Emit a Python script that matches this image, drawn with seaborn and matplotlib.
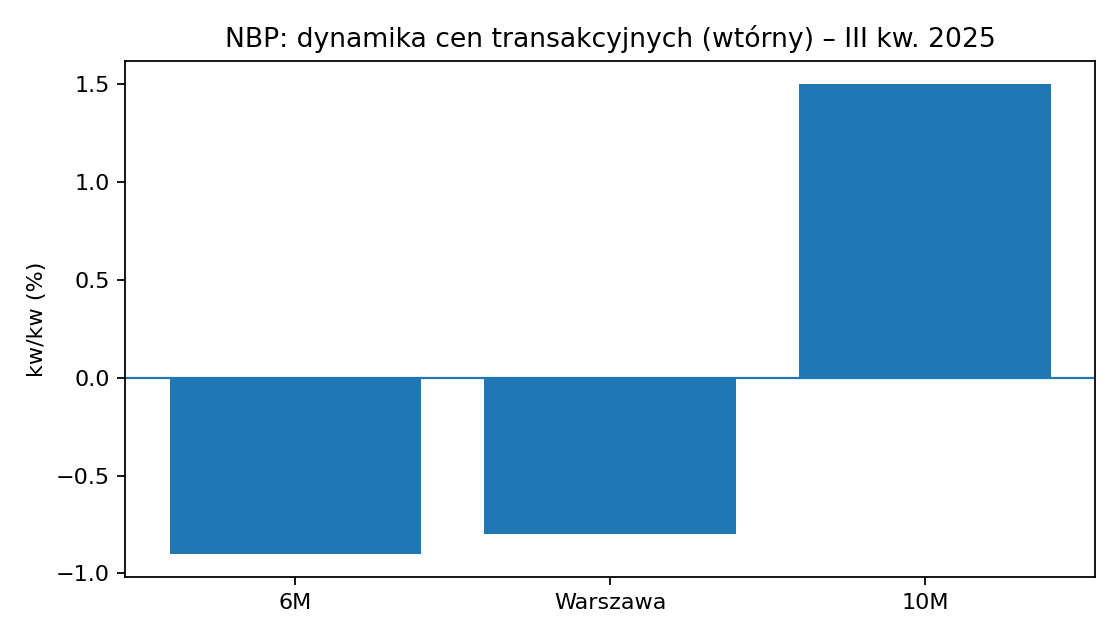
import matplotlib
matplotlib.use("Agg")
import matplotlib.pyplot as plt
import seaborn as sns
import pandas as pd

categories = ["6M", "Warszawa", "10M"]
values = [-0.9, -0.8, 1.5]

df = pd.DataFrame({"cat": categories, "val": values})
fig, ax = plt.subplots(figsize=(7, 4), dpi=160)
sns.barplot(data=df, x="cat", y="val", color="#1f77b4", saturation=1, width=0.8, ax=ax)
ax.axhline(0, color="#1f77b4", linewidth=1)
ax.set_title("NBP: dynamika cen transakcyjnych (wtórny) – III kw. 2025")
ax.set_ylabel("kw/kw (%)")
ax.set_xlabel("")
ax.set_xlim(-0.54, 2.54)
fig.subplots_adjust(left=0.112, right=0.978, top=0.905, bottom=0.098)
fig.savefig("out.png")
